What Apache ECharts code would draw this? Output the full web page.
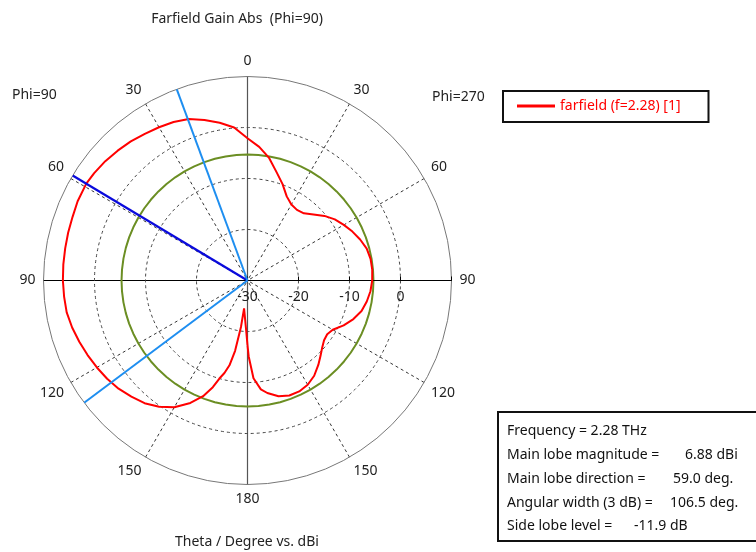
<!DOCTYPE html>
<html>
<head>
<meta charset="utf-8">
<script src="https://cdn.jsdelivr.net/npm/echarts@6/dist/echarts.min.js"></script>
<style>html,body{margin:0;padding:0;background:#fff;}#c{width:756px;height:552px;}</style>
</head>
<body>
<div id="c"></div>
<script>
// ---- data (Theta in degrees, gain in dBi) ----
const thetaPhi90 = [0,5,10,15,20,25,30,35,40,45,50,55,59,65,70,75,80,85,90,95,100,105,110,115,120,125,130,135,140,145,150,155,159,162,164,166,168,170,172,173,178.4,180];
const gainPhi90  = [-2.1,0.1,1.4,2.6,3.7,4.3,4.7,5.1,5.6,6.0,6.4,6.7,6.88,6.75,6.5,6.4,6.3,6.25,6.2,6.1,6.0,5.6,5.1,4.6,4.1,3.6,3.0,2.2,1.4,0.2,-1.3,-3.5,-5.7,-8.0,-10.0,-11.3,-13.0,-16.0,-20.8,-24.5,-20.3,-17.3];
const thetaPhi270 = [0,5,10,15,20,25,30,35,40,45,50,55,60,65,70,75,80,85,90,95,100,105,110,115,120,124,128,132,136,140,145,150,155,160,165,170,173,176.5,179.1,180];
const gainPhi270  = [-2.1,-3.7,-5.6,-8.0,-9.9,-11.8,-12.8,-13.1,-12.8,-11.7,-10.3,-9.1,-8.2,-7.3,-6.5,-5.8,-5.5,-5.45,-5.55,-5.8,-6.25,-6.85,-7.9,-9.2,-10.7,-11.15,-10.95,-10.3,-9.4,-8.4,-7.2,-6.4,-6.0,-6.0,-6.5,-7.6,-8.5,-10.8,-15.1,-17.3];
const sideLobeCircle = -5.3;           // side lobe level reference circle (dBi)
const mainLobeDirection = 59.0;        // deg, on Phi=90 side
const beamEdges = [20.3, 126.8];       // 3 dB beam edges, deg, Phi=90 side
const angleTickLabels = ['90','60','30','0','30','60','90','120','150','180','150','120',''];
const radiusTickLabels = ['-30','-20','-10','0',''];
const legendName = 'farfield (f=2.28) [1]';
const infoLabels = ['Frequency = 2.28 THz','Main lobe magnitude =','Main lobe direction =','Angular width (3 dB) =','Side lobe level ='];
const infoValues = ['','6.88 dBi','59.0 deg.','106.5 deg.','-11.9 dB'];

// polar angle value: Phi=90 side -> 90+theta, Phi=270 side -> 90-theta
const pos90 = t => 90 + t;
const pos270 = t => ((90 - t) % 360 + 360) % 360;

const redData = [];
for (let i = thetaPhi270.length - 1; i >= 0; i--) redData.push([gainPhi270[i], pos270(thetaPhi270[i])]);
for (let i = 0; i < thetaPhi90.length; i++) redData.push([gainPhi90[i], pos90(thetaPhi90[i])]);

const circleData = [];
for (let a = 0; a <= 360; a += 5) circleData.push([sideLobeCircle, a]);

const FONT = 'Noto Sans';
const FS = 14;
const chart = echarts.init(document.getElementById('c'), null, {renderer: 'canvas'});

const lineSeries = (data, color, width, z) => ({
  type: 'line', coordinateSystem: 'polar', data: data, showSymbol: false, symbol: 'none',
  silent: true, lineStyle: {color: color, width: width}, itemStyle: {color: color}, z: z, animation: false
});

const infoGraphics = [];
const infoY = [430, 454, 478, 502, 525];
const infoValX = [585, 685, 673, 670, 634];
for (let i = 0; i < infoLabels.length; i++) {
  infoGraphics.push({type: 'text', left: 507, top: infoY[i] - 6, style: {text: infoLabels[i], fill: '#111', font: FS + 'px "' + FONT + '"'}, z: 101});
  if (infoValues[i]) infoGraphics.push({type: 'text', left: infoValX[i], top: infoY[i] - 6, style: {text: infoValues[i], fill: '#111', font: FS + 'px "' + FONT + '"'}, z: 101});
}

chart.setOption({
  animation: false,
  textStyle: {fontFamily: FONT},
  title: {
    text: 'Farfield Gain Abs  (Phi=90)', left: 232, top: 7, textAlign: 'center',
    textStyle: {fontFamily: FONT, fontSize: FS, fontWeight: 'normal', color: '#222'}
  },
  legend: {
    show: true, left: 503, top: 91, orient: 'horizontal',
    data: [{name: legendName, icon: 'rect'}],
    itemWidth: 38, itemHeight: 3, itemGap: 8, selectedMode: false,
    borderColor: '#111', borderWidth: 2, backgroundColor: '#fff',
    padding: [8, 28, 9, 14],
    textStyle: {color: '#ff0000', fontFamily: FONT, fontSize: FS}
  },
  polar: {center: [247.5, 280.5], radius: 204},
  angleAxis: {
    type: 'value', min: 0, max: 360, interval: 30, startAngle: 0, clockwise: false,
    axisLine: {show: true, lineStyle: {color: '#777', width: 1}},
    axisTick: {show: false},
    axisLabel: {
      show: true, margin: 8, color: '#222', fontFamily: FONT, fontSize: FS,
      formatter: v => angleTickLabels[Math.round(v / 30)]
    },
    splitLine: {show: true, lineStyle: {color: '#333', width: 1, type: [3, 3]}}
  },
  radiusAxis: {
    type: 'value', min: -30, max: 10, interval: 10,
    axisLine: {show: true, lineStyle: {color: '#000', width: 1}},
    axisTick: {show: true, length: 4, lineStyle: {color: '#000'}},
    axisLabel: {
      show: true, margin: -17, verticalAlign: 'middle', color: '#222', fontFamily: FONT, fontSize: FS,
      formatter: v => radiusTickLabels[Math.round((v + 30) / 10)]
    },
    splitLine: {show: true, lineStyle: {color: ['rgba(0,0,0,0)', '#444', '#444', '#444', 'rgba(0,0,0,0)'], width: 1, type: [3, 3]}},
    z: 5
  },
  series: [
    lineSeries([[10, 180], [-30, 180]], '#000', 1, 3),
    lineSeries([[10, 90], [10, 270]], '#555', 1.2, 3),
    lineSeries(circleData, '#6b8e23', 2, 4),
    Object.assign(lineSeries(redData, '#ff0000', 2, 6), {name: legendName}),
    lineSeries([[-30, pos90(mainLobeDirection)], [10, pos90(mainLobeDirection)]], '#0a0adc', 2.2, 7),
    lineSeries([[-30, pos90(beamEdges[0])], [10, pos90(beamEdges[0])]], '#1e8ef0', 2, 7),
    lineSeries([[-30, pos90(beamEdges[1])], [10, pos90(beamEdges[1])]], '#1e8ef0', 2, 7)
  ],
  graphic: [
    {type: 'text', left: 12, top: 88, style: {text: 'Phi=90', fill: '#222', font: FS + 'px "' + FONT + '"'}},
    {type: 'text', left: 432, top: 90, style: {text: 'Phi=270', fill: '#222', font: FS + 'px "' + FONT + '"'}},
    {type: 'text', left: 175, top: 535, style: {text: 'Theta / Degree vs. dBi', fill: '#222', font: FS + 'px "' + FONT + '"'}},
    {type: 'rect', shape: {x: 498, y: 412, width: 280, height: 129}, style: {fill: '#fff', stroke: '#111', lineWidth: 2}, z: 100}
  ].concat(infoGraphics)
});
</script>
</body>
</html>
